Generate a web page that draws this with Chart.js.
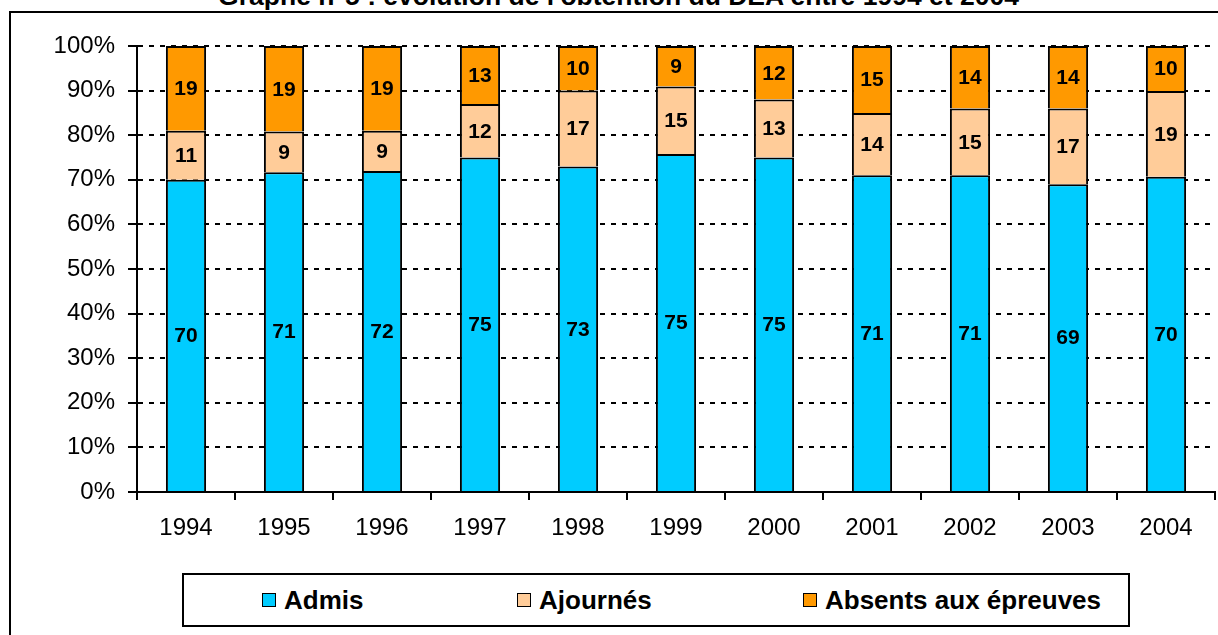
<!DOCTYPE html>
<html>
<head>
<meta charset="utf-8">
<script src="https://cdn.jsdelivr.net/npm/chart.js@4"></script>
<style>
  body { margin: 0; width: 1218px; height: 635px; overflow: hidden; background: #fff; position: relative;
         font-family: "Liberation Sans", Arial, sans-serif; }
  #title { position: absolute; left: 0; width: 1237px; top: -17px; text-align: center; font-weight: bold;
           font-size: 26.5px; line-height: 26px; white-space: nowrap; }
  #frame { position: absolute; left: 9px; top: 11px; width: 1240px; height: 660px; border: 2px solid #000; background: #fff; }
  #wrap { position: absolute; left: 0; top: 0; width: 1218px; height: 635px; }
  #legend { position: absolute; left: 182px; top: 573px; width: 944px; height: 50px; border: 2px solid #000; background: #fff; }
  .item { position: absolute; top: 0; height: 50px; display: flex; align-items: center; font-weight: bold; font-size: 26px; }
  .box { width: 12px; height: 12px; border: 1.5px solid #000; margin-right: 8px; }
</style>
</head>
<body>
<div id="title">Graphe n°5 : évolution de l'obtention du DEA entre 1994 et 2004</div>
<div id="frame"></div>
<div id="wrap"><canvas id="chart" width="1218" height="635"></canvas></div>
<div id="legend"></div>
<script>
const years = ['1994', '1995', '1996', '1997', '1998', '1999', '2000', '2001', '2002', '2003', '2004'];
const admis = [70, 71, 72, 75, 73, 75, 75, 71, 71, 69, 70];
const ajournes = [11, 9, 9, 12, 17, 15, 13, 14, 15, 17, 19];
const absents = [19, 19, 19, 13, 10, 9, 12, 15, 14, 14, 10];
const seriesNames = ['Admis', 'Ajournés', 'Absents aux épreuves'];
const seriesColors = ['#00CCFF', '#FFCC99', '#FF9900'];
const yTickLabels = ['0%', '10%', '20%', '30%', '40%', '50%', '60%', '70%', '80%', '90%', '100%'];

// 100% stacked: each bar is the share of the year's total
function shares(arr) {
    return arr.map((v, i) => v / (admis[i] + ajournes[i] + absents[i]) * 100);
}

const series = [admis, ajournes, absents];

// draws the raw value in the middle of each segment
const barLabels = {
    id: 'barLabels',
    afterDatasetsDraw(chart) {
        const ctx = chart.ctx;
        ctx.save();
        ctx.font = 'bold 21px "Liberation Sans", Arial, sans-serif';
        ctx.fillStyle = '#000';
        ctx.textAlign = 'center';
        ctx.textBaseline = 'middle';
        chart.data.datasets.forEach((ds, di) => {
            chart.getDatasetMeta(di).data.forEach((bar, i) => {
                const p = bar.getCenterPoint();
                ctx.fillText(ds.values[i], p.x, p.y + 1);
            });
        });
        ctx.restore();
    }
};

const chart = new Chart(document.getElementById('chart'), {
    type: 'bar',
    data: {
        labels: years,
        datasets: series.map((arr, k) => ({
            label: seriesNames[k],
            data: shares(arr),
            values: arr,
            backgroundColor: seriesColors[k],
            borderColor: '#000',
            borderWidth: 2,
            borderSkipped: 'start',
            barPercentage: 0.41,
            categoryPercentage: 1
        }))
    },
    plugins: [barLabels],
    options: {
        responsive: false,
        animation: false,
        layout: { padding: { left: 0, right: 3, top: 46, bottom: 93 } },
        plugins: { legend: { display: false }, tooltip: { enabled: false } },
        scales: {
            x: {
                stacked: true,
                afterFit: s => { s.height = 50; },
                grid: { display: true, drawOnChartArea: false, offset: true, color: '#000', lineWidth: 2, tickLength: 8 },
                border: { display: true, color: '#000', width: 2 },
                ticks: { color: '#000', padding: 14, font: { family: '"Liberation Sans", Arial, sans-serif', size: 24 } }
            },
            y: {
                stacked: true,
                min: 0,
                max: 100,
                afterFit: s => { s.width = 137; },
                grid: { color: '#000', lineWidth: 2, tickLength: 9 },
                border: { display: true, color: '#000', width: 2, dash: [5, 6] },
                ticks: {
                    stepSize: 10,
                    color: '#000',
                    padding: 13,
                    font: { family: '"Liberation Sans", Arial, sans-serif', size: 24 },
                    callback: (v, i) => yTickLabels[i]
                }
            }
        }
    }
});

// legend in its framed box, built from the datasets
const legendLeft = [78, 333, 619];
const legend = document.getElementById('legend');
chart.data.datasets.forEach((ds, k) => {
    const item = document.createElement('div');
    item.className = 'item';
    item.style.left = legendLeft[k] + 'px';
    item.innerHTML = '<span class="box" style="background:' + ds.backgroundColor + '"></span><span>' + ds.label + '</span>';
    legend.appendChild(item);
});
</script>
</body>
</html>
